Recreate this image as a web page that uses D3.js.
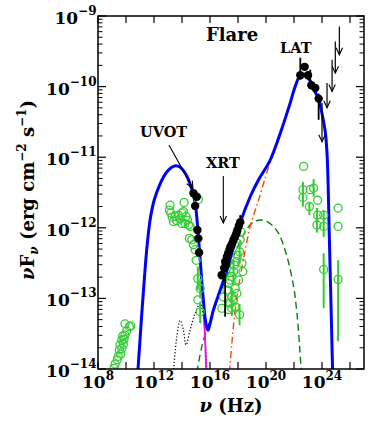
<!DOCTYPE html>
<html><head><meta charset="utf-8">
<script src="https://cdn.jsdelivr.net/npm/d3@7"></script>
<style>
body{margin:0;background:#fff}
svg{display:block}
text{font-family:"DejaVu Serif",serif;font-weight:bold;fill:#000}
</style>
</head><body>
<svg id="c" width="379" height="432"></svg>
<script>
// ---- data (log10 nu [Hz], log10 nuFnu [erg cm^-2 s^-1]) ----
const xTickExps = [8,10,12,14,16,18,20,22,24,26];
const xLabelExps = [8,12,16,20,24];
const yTickExps = [-14,-13,-12,-11,-10,-9];

const blueModel = [
[10.84,-14.05],[11.00,-13.59],[11.13,-13.21],[11.29,-12.78],[11.48,-12.31],[11.72,-11.89],
[12.01,-11.61],[12.43,-11.38],[12.91,-11.21],[13.30,-11.14],[13.56,-11.12],[13.85,-11.14],
[14.10,-11.19],[14.35,-11.27],[14.58,-11.38],[14.80,-11.53],[14.94,-11.65],[15.08,-11.90],
[15.17,-12.13],[15.30,-12.45],[15.42,-12.78],[15.55,-13.08],[15.65,-13.28],[15.78,-13.42],
[15.85,-13.45],[16.00,-13.36],[16.25,-13.16],[16.73,-12.88],[17.21,-12.60],[17.68,-12.27],
[18.16,-11.93],[18.87,-11.56],[19.47,-11.32],[20.30,-11.04],[21.02,-10.66],[21.73,-10.23],
[22.10,-9.99],[22.40,-9.86],[22.70,-9.84],[23.16,-9.92],[23.50,-10.07],[23.76,-10.18],
[24.04,-10.42],[24.24,-10.65],[24.36,-10.95],[24.44,-11.40],[24.52,-12.10],[24.62,-12.90],
[24.76,-14.05]];
const sscModel = [
[15.06,-14.05],[15.42,-13.68],[15.80,-13.42],[16.23,-13.19],[16.73,-12.92],[17.23,-12.67],
[17.66,-12.41],[18.16,-12.19],[18.59,-12.03],[19.09,-11.92],[19.71,-11.89],[20.30,-11.94],
[20.90,-12.08],[21.50,-12.41],[21.97,-12.83],[22.21,-13.21],[22.40,-13.68],[22.52,-14.05]];
const ecModel = [
[17.39,-14.05],[17.56,-13.64],[17.80,-13.16],[18.16,-12.69],[18.52,-12.31],[18.87,-11.98],
[19.23,-11.75],[19.47,-11.61],[19.90,-11.32],[20.37,-11.02]];
const diskModel = [
[13.39,-14.05],[13.63,-13.54],[13.87,-13.31],[14.10,-13.45],[14.29,-13.66],[14.58,-13.45],
[14.94,-13.21],[15.30,-13.07],[15.49,-13.21],[15.65,-13.54],[15.78,-14.05]];
const syncTail = [[15.55,-13.12],[15.62,-13.45],[15.68,-13.75],[15.73,-14.05]];

const archivalPts = [
[9.14,-13.99],[9.22,-13.93],[9.38,-13.87],[9.45,-13.82],[9.62,-13.79],[9.52,-13.73],[9.70,-13.71],
[9.57,-13.66],[9.81,-13.65],[9.70,-13.59],[9.86,-13.58],[9.77,-13.53],[9.93,-13.52],[10.05,-13.46],
[9.93,-13.36],[10.24,-13.40],[10.34,-13.39],
[13.15,-11.68],[13.10,-11.75],[13.20,-11.79],[13.39,-11.91],[13.51,-11.84],[13.74,-11.82],
[13.87,-11.87],[13.99,-11.79],[14.10,-11.77],[14.15,-11.64],[14.29,-11.84],[13.99,-11.94],
[14.22,-11.94],[14.39,-11.89],[14.46,-11.96],[14.58,-11.98],[14.53,-12.15],[14.70,-12.17],
[14.82,-12.24],[14.94,-12.31],[15.01,-12.46],[15.13,-12.72],[15.30,-12.86],[15.13,-13.02],
[15.30,-13.19],[15.17,-11.60],[13.30,-11.85],[13.62,-11.90],
[16.85,-13.14],[16.96,-12.98],[17.21,-12.88],[17.32,-12.79],[17.44,-12.74],[17.56,-12.69],
[17.68,-12.62],[17.73,-12.53],[17.87,-12.48],[17.96,-12.39],[18.11,-12.34],[18.28,-12.50],
[18.35,-12.62],[18.04,-12.74],[17.80,-12.86],[17.56,-12.98],[17.44,-13.07],[17.68,-13.02],
[17.92,-12.93],[17.32,-13.16],[17.56,-13.14],[18.11,-13.23],[17.80,-13.12],[18.16,-12.17],
[17.96,-12.22],[18.21,-12.06],[16.85,-12.67],
[22.69,-11.13],[22.64,-11.46],[22.64,-11.57],[23.16,-11.46],[23.10,-11.70],[23.40,-11.44],
[23.69,-11.61],[23.69,-11.82],[23.64,-11.96],[24.12,-11.82],[24.12,-11.98],[24.12,-12.59],
[25.15,-11.72],[25.15,-11.98],[25.15,-12.73]];
const archivalErr = [
[15.13,-12.55,-12.88],[15.30,-12.72,-13.00],[15.30,-13.05,-13.35],
[17.68,-12.45,-12.80],[18.11,-12.20,-12.50],[18.11,-13.08,-13.38],[17.56,-12.85,-13.25],
[22.64,-11.35,-11.70],[23.10,-11.63,-11.82],[23.40,-11.31,-11.56],[23.64,-11.72,-12.07],
[24.12,-11.75,-12.13],[24.12,-12.36,-13.14],[25.15,-12.46,-13.61]];

const uvotPts = [[14.82,-11.51],[15.06,-11.56],[14.94,-11.69],[15.10,-12.03],[15.17,-12.15],[15.22,-12.35]];
const xrtPts = [
[16.85,-12.67],[17.01,-12.57],[17.08,-12.48],[17.21,-12.41],[17.30,-12.36],[17.39,-12.31],
[17.49,-12.26],[17.59,-12.22],[17.68,-12.17],[17.78,-12.13],[17.87,-12.09],[17.96,-12.03],
[18.06,-11.97],[18.16,-11.92],[17.15,-12.52],[17.45,-12.28],[17.92,-12.06]];
const xrtErr = [[17.08,-12.70,-13.26],[16.95,-12.45,-12.75],[17.21,-12.30,-12.58],[18.16,-11.82,-12.02]];
const latPts = [[22.45,-9.84],[22.76,-9.72],[23.00,-9.84],[23.24,-9.98],[23.52,-10.02],[23.76,-10.17]];
const latErr = [[22.45,-9.59,-9.90],[23.16,-9.76,-9.98],[23.76,-10.10,-10.47]];
const latUL = [[24.00,-10.23,-10.78],[24.36,-9.95,-10.30],[24.72,-9.62,-10.07],[24.95,-9.36,-9.81],[25.24,-9.15,-9.55]];

// ---- chart ----
const svg = d3.select("#c");
const L=98, R=364, T=16, B=369;
const x = d3.scaleLog().domain([1e8,1e27]).range([L,R]);
const y = d3.scaleLog().domain([1e-14,1e-9]).range([B,T]);
const X = v => x(10**v), Y = v => y(10**v);

svg.append("defs").append("clipPath").attr("id","clip")
  .append("rect").attr("x",L).attr("y",T).attr("width",R-L).attr("height",B-T);
const defs = svg.select("defs");
defs.append("marker").attr("id","ah").attr("viewBox","-9 -5 10 10")
  .attr("refX",0).attr("refY",0).attr("markerWidth",10).attr("markerHeight",10)
  .attr("markerUnits","userSpaceOnUse").attr("orient","auto")
  .append("path").attr("d","M-7,-3.2 L0,0 L-7,3.2").attr("fill","none").attr("stroke","#000").attr("stroke-width",1.1);

const g = svg.append("g").attr("clip-path","url(#clip)");
const line = d3.line().x(d=>X(d[0])).y(d=>Y(d[1])).curve(d3.curveCatmullRom.alpha(0.5));

g.append("path").datum(diskModel).attr("d",line).attr("fill","none")
  .attr("stroke","#000").attr("stroke-width",1.2).attr("stroke-dasharray","1.2,2");
g.append("path").datum(sscModel).attr("d",line).attr("fill","none")
  .attr("stroke","#0a7d0a").attr("stroke-width",1.4).attr("stroke-dasharray","7,4");
g.append("path").datum(ecModel).attr("d",line).attr("fill","none")
  .attr("stroke","#ff4500").attr("stroke-width",1.4).attr("stroke-dasharray","7,3,1.5,3");
g.append("path").datum(syncTail).attr("d",line).attr("fill","none")
  .attr("stroke","#ff00ff").attr("stroke-width",1.8);
g.append("path").datum(blueModel).attr("d",line).attr("fill","none")
  .attr("stroke","#0000ff").attr("stroke-width",3);

// archival green
const green = "#33cc33";
g.selectAll(".ae").data(archivalErr).join("line")
  .attr("x1",d=>X(d[0])).attr("x2",d=>X(d[0])).attr("y1",d=>Y(d[1])).attr("y2",d=>Y(d[2]))
  .attr("stroke",green).attr("stroke-width",2);
g.selectAll(".ap").data(archivalPts).join("circle")
  .attr("cx",d=>X(d[0])).attr("cy",d=>Y(d[1])).attr("r",4)
  .attr("fill","none").attr("stroke",green).attr("stroke-width",1.3);

// black data
const errs = xrtErr.concat(latErr);
g.selectAll(".be").data(errs).join("line")
  .attr("x1",d=>X(d[0])).attr("x2",d=>X(d[0])).attr("y1",d=>Y(d[1])).attr("y2",d=>Y(d[2]))
  .attr("stroke","#000").attr("stroke-width",1.8);
g.selectAll(".bp").data(uvotPts.concat(xrtPts, latPts)).join("circle")
  .attr("cx",d=>X(d[0])).attr("cy",d=>Y(d[1])).attr("r",4.2).attr("fill","#000");
g.selectAll(".ul").data(latUL).join("line")
  .attr("x1",d=>X(d[0])).attr("x2",d=>X(d[0])).attr("y1",d=>Y(d[1])).attr("y2",d=>Y(d[2]))
  .attr("stroke","#000").attr("stroke-width",1.2).attr("marker-end","url(#ah)");

// frame and ticks
const ax = svg.append("g");
ax.append("rect").attr("x",L).attr("y",T).attr("width",R-L).attr("height",B-T)
  .attr("fill","none").attr("stroke","#000").attr("stroke-width",1.5);
xTickExps.forEach(e=>{
  const px = X(e);
  ax.append("line").attr("x1",px).attr("x2",px).attr("y1",B).attr("y2",B-7).attr("stroke","#000").attr("stroke-width",1.2);
  ax.append("line").attr("x1",px).attr("x2",px).attr("y1",T).attr("y2",T+7).attr("stroke","#000").attr("stroke-width",1.2);
});
yTickExps.forEach(e=>{
  const py = Y(e);
  [[L,L+8],[R,R-8]].forEach(([a,b])=>ax.append("line").attr("x1",a).attr("x2",b).attr("y1",py).attr("y2",py).attr("stroke","#000").attr("stroke-width",1.2));
  if (e < -9) for (let m=2;m<=9;m++){
    const pm = y(m*10**e);
    [[L,L+4.5],[R,R-4.5]].forEach(([a,b])=>ax.append("line").attr("x1",a).attr("x2",b).attr("y1",pm).attr("y2",pm).attr("stroke","#000").attr("stroke-width",1));
  }
});
// tick labels
xLabelExps.forEach(e=>{
  const t = ax.append("text").attr("x",X(e)).attr("y",388).attr("text-anchor","middle").attr("font-size",17);
  t.append("tspan").text("10");
  t.append("tspan").attr("dy",-8).attr("font-size",12).text(e);
});
yTickExps.forEach(e=>{
  const t = ax.append("text").attr("x",96.5).attr("y",Y(e)+8).attr("text-anchor","end").attr("font-size",17);
  t.append("tspan").text("10");
  t.append("tspan").attr("dy",-9).attr("font-size",12).text("\u2212"+(-e));
});
// axis titles
const xt = ax.append("text").attr("x",231).attr("y",412).attr("text-anchor","middle").attr("font-size",18);
xt.append("tspan").attr("font-style","italic").text("\u03BD");
xt.append("tspan").text(" (Hz)");
const yt = ax.append("text").attr("transform","translate(34,190) rotate(-90)").attr("text-anchor","middle").attr("font-size",18);
yt.append("tspan").attr("font-style","italic").text("\u03BD");
yt.append("tspan").text("F");
yt.append("tspan").attr("dy",4).attr("font-size",12).attr("font-style","italic").text("\u03BD");
yt.append("tspan").attr("dy",-4).text(" (erg cm");
yt.append("tspan").attr("dy",-8).attr("font-size",12).text("\u22122");
yt.append("tspan").attr("dy",8).text(" s");
yt.append("tspan").attr("dy",-8).attr("font-size",12).text("\u22121");
yt.append("tspan").attr("dy",8).text(")");

// annotations
svg.append("text").attr("x",206).attr("y",41).attr("font-size",18).text("Flare");
svg.append("text").attr("x",280).attr("y",53).attr("font-size",14.5).text("LAT");
svg.append("text").attr("x",140).attr("y",137).attr("font-size",14.5).text("UVOT");
svg.append("text").attr("x",206).attr("y",168).attr("font-size",14.5).text("XRT");
svg.append("line").attr("x1",169).attr("y1",145).attr("x2",X(14.78)).attr("y2",Y(-11.44))
  .attr("stroke","#000").attr("stroke-width",1.1).attr("marker-end","url(#ah)");
svg.append("line").attr("x1",223.3).attr("y1",176).attr("x2",223.3).attr("y2",223)
  .attr("stroke","#000").attr("stroke-width",1.1).attr("marker-end","url(#ah)");
</script>
</body></html>
